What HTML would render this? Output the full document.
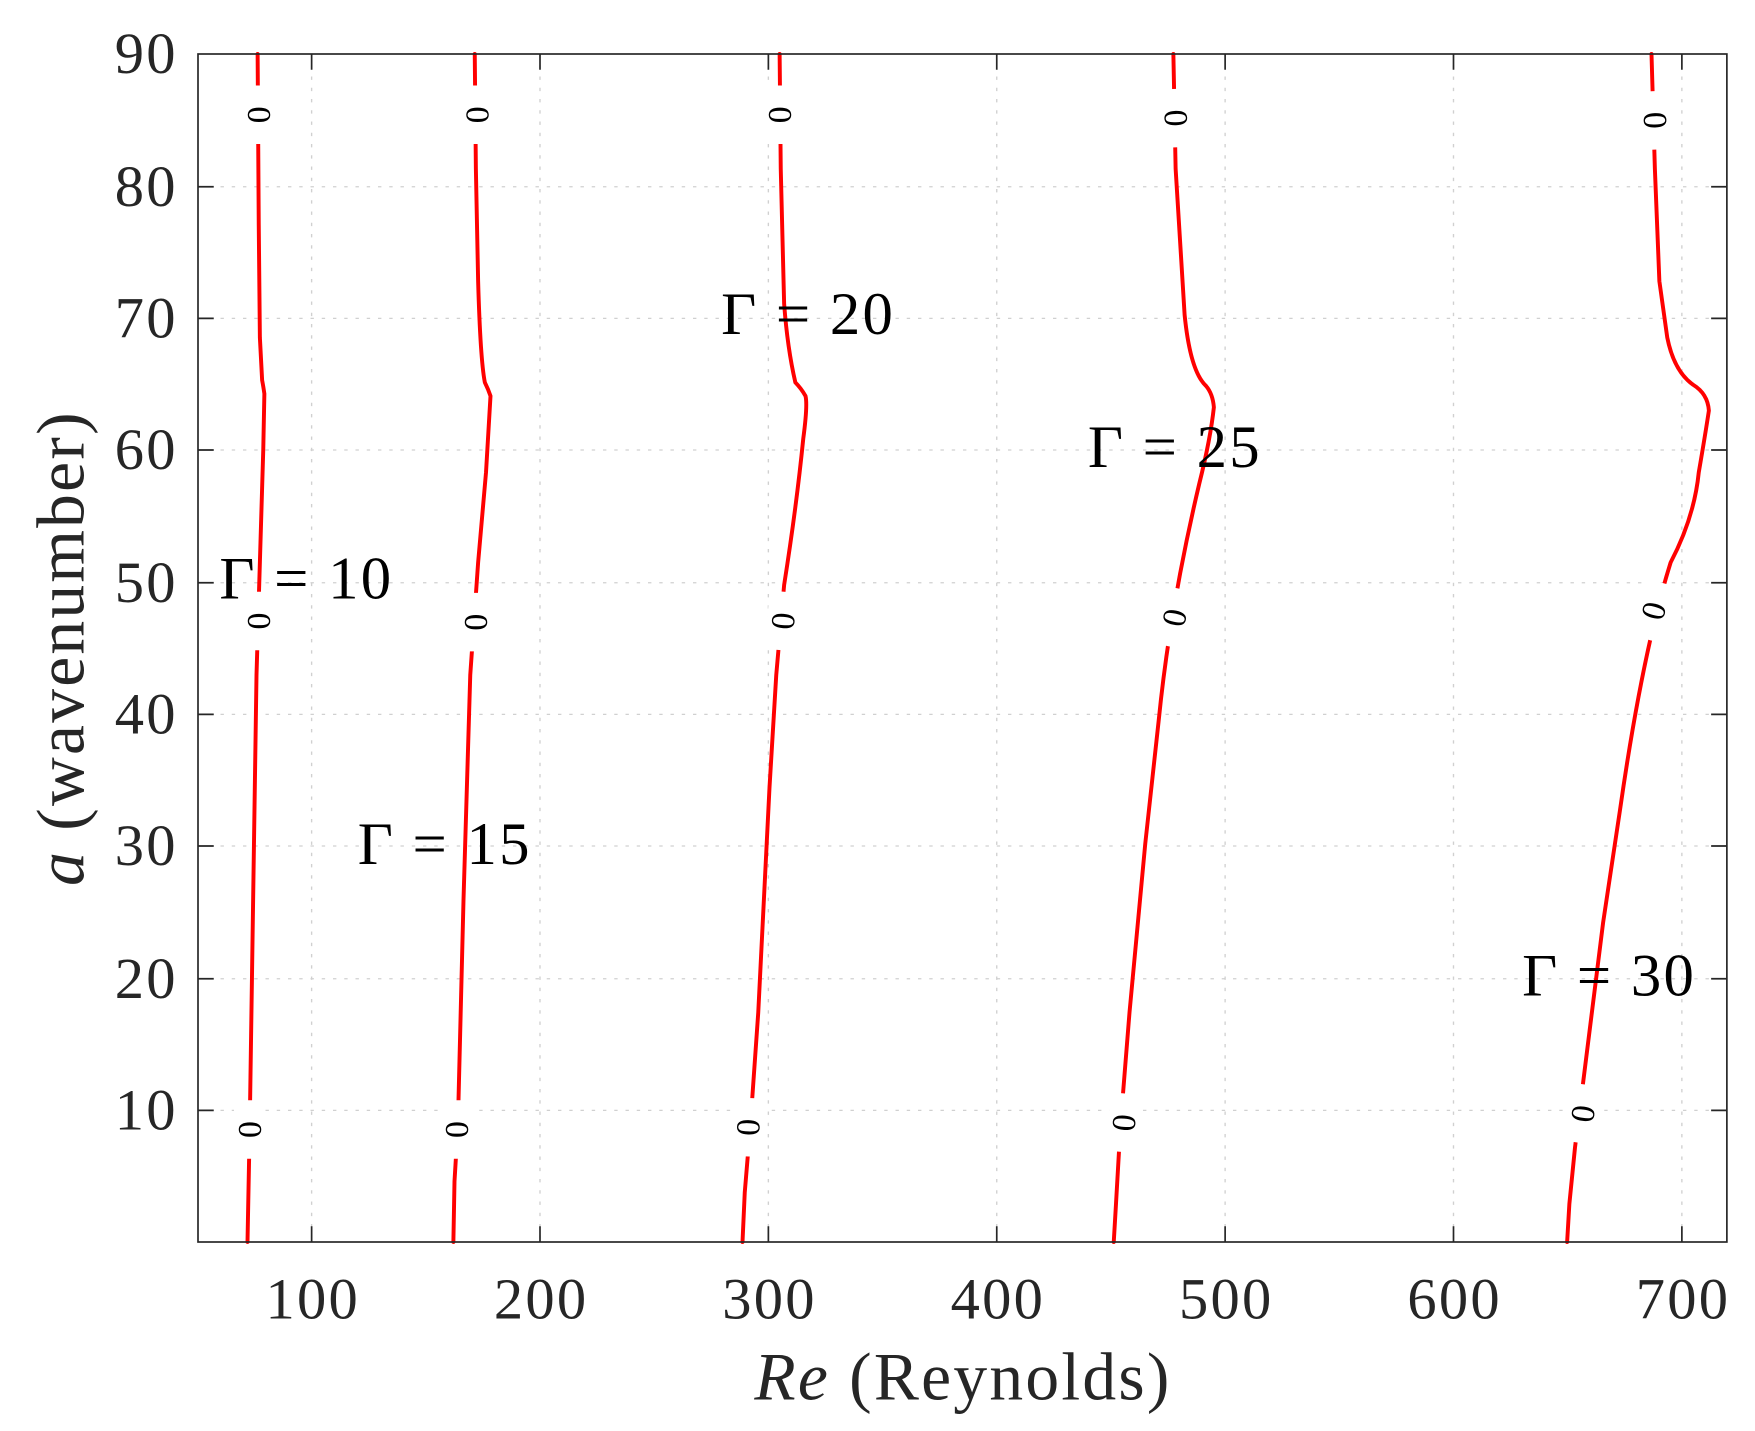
<!DOCTYPE html>
<html><head><meta charset="utf-8"><style>html,body{margin:0;padding:0;background:#fff}svg{display:block}</style></head>
<body>
<svg width="1755" height="1431" viewBox="0 0 1560 1272" xmlns="http://www.w3.org/2000/svg" font-family="Liberation Serif, serif">
<rect width="1560" height="1272" fill="#fff"/>
<g stroke="#d0d0d0" stroke-width="1.2" stroke-dasharray="3,7">
<line x1="277" y1="48" x2="277" y2="1104"/><line x1="480" y1="48" x2="480" y2="1104"/><line x1="683" y1="48" x2="683" y2="1104"/><line x1="886" y1="48" x2="886" y2="1104"/><line x1="1089" y1="48" x2="1089" y2="1104"/><line x1="1292" y1="48" x2="1292" y2="1104"/><line x1="1495" y1="48" x2="1495" y2="1104"/>
<line x1="176" y1="987" x2="1535" y2="987"/><line x1="176" y1="870" x2="1535" y2="870"/><line x1="176" y1="752" x2="1535" y2="752"/><line x1="176" y1="635" x2="1535" y2="635"/><line x1="176" y1="518" x2="1535" y2="518"/><line x1="176" y1="400" x2="1535" y2="400"/><line x1="176" y1="283" x2="1535" y2="283"/><line x1="176" y1="166" x2="1535" y2="166"/>
</g>
<g fill="none" stroke="#ff0000" stroke-width="3.5" stroke-linejoin="round" stroke-linecap="round">
<path d="M220,1104 L222,1000 L225,800 L228,600 L231,500 L234,400 L235,350 Q234,343 233,338 L231,300 L230,200 L229,48"/>
<path d="M403,1104 L404,1050 L407,1000 L412,800 L418,600 L425,500 L432,420 L436,352 Q434,346 431,340 Q427,320 425,250 L423,150 L422,48"/>
<path d="M660,1104 L662,1060 L667,1000 L674,900 L684,700 L690,600 L697,520 Q708,450 714,390 Q718,360 716,352 Q712,345 707,340 Q700,310 697,270 L694,150 L693,48"/>
<path d="M990,1104 L992,1070 L996,1000 L1004,900 L1018,750 L1030,640 Q1040,540 1066,430 Q1076,390 1079,362 Q1078,350 1072,343 Q1058,330 1053,280 L1045,150 L1043,48"/>
<path d="M1393,1104 L1395,1070 L1400,1020 L1410,940 L1425,820 L1440,720 Q1460,580 1485,500 Q1506,460 1510,420 Q1516,385 1519,365 Q1518,350 1505,342 Q1488,330 1482,300 L1475,250 L1471,150 L1468,48"/>
</g>
<g font-size="30" fill="#000" text-anchor="middle">
<g transform="translate(230,102) rotate(-90)"><rect x="-26" y="-14" width="52" height="28" fill="#fff"/><text y="10">0</text></g>
<g transform="translate(230,552) rotate(-90)"><rect x="-26" y="-14" width="52" height="28" fill="#fff"/><text y="10">0</text></g>
<g transform="translate(222,1004) rotate(-90)"><rect x="-26" y="-14" width="52" height="28" fill="#fff"/><text y="10">0</text></g>
<g transform="translate(424,102) rotate(-90)"><rect x="-26" y="-14" width="52" height="28" fill="#fff"/><text y="10">0</text></g>
<g transform="translate(423,553) rotate(-90)"><rect x="-26" y="-14" width="52" height="28" fill="#fff"/><text y="10">0</text></g>
<g transform="translate(406,1004) rotate(-90)"><rect x="-26" y="-14" width="52" height="28" fill="#fff"/><text y="10">0</text></g>
<g transform="translate(693,102) rotate(-90)"><rect x="-26" y="-14" width="52" height="28" fill="#fff"/><text y="10">0</text></g>
<g transform="translate(696,552) rotate(-85)"><rect x="-26" y="-14" width="52" height="28" fill="#fff"/><text y="10">0</text></g>
<g transform="translate(665,1002) rotate(-88)"><rect x="-26" y="-14" width="52" height="28" fill="#fff"/><text y="10">0</text></g>
<g transform="translate(1045,105) rotate(-92)"><rect x="-26" y="-14" width="52" height="28" fill="#fff"/><text y="10">0</text></g>
<g transform="translate(1044,549) rotate(-78)"><rect x="-26" y="-14" width="52" height="28" fill="#fff"/><text y="10">0</text></g>
<g transform="translate(999,998) rotate(-85)"><rect x="-26" y="-14" width="52" height="28" fill="#fff"/><text y="10">0</text></g>
<g transform="translate(1471,107) rotate(-92)"><rect x="-26" y="-14" width="52" height="28" fill="#fff"/><text y="10">0</text></g>
<g transform="translate(1470,543) rotate(-75)"><rect x="-26" y="-14" width="52" height="28" fill="#fff"/><text y="10">0</text></g>
<g transform="translate(1407,990) rotate(-82)"><rect x="-26" y="-14" width="52" height="28" fill="#fff"/><text y="10">0</text></g>
</g>
<g fill="none" stroke="#262626" stroke-width="1.5">
<rect x="176" y="48" width="1359" height="1056"/>
<path d="M277,1104v-14M480,1104v-14M683,1104v-14M886,1104v-14M1089,1104v-14M1292,1104v-14M1495,1104v-14M277,48v14M480,48v14M683,48v14M886,48v14M1089,48v14M1292,48v14M1495,48v14"/>
<path d="M176,987h14M176,870h14M176,752h14M176,635h14M176,518h14M176,400h14M176,283h14M176,166h14M1535,987h-14M1535,870h-14M1535,752h-14M1535,635h-14M1535,518h-14M1535,400h-14M1535,283h-14M1535,166h-14"/>
</g>
<g font-size="52" fill="#262626" text-anchor="end" letter-spacing="2">
<text x="158" y="1004">10</text><text x="158" y="887">20</text><text x="158" y="769">30</text><text x="158" y="652">40</text><text x="158" y="535">50</text><text x="158" y="417">60</text><text x="158" y="300">70</text><text x="158" y="183">80</text><text x="158" y="65">90</text>
</g>
<g font-size="52" fill="#262626" text-anchor="middle" letter-spacing="2">
<text x="278" y="1172">100</text><text x="481" y="1172">200</text><text x="684" y="1172">300</text><text x="887" y="1172">400</text><text x="1090" y="1172">500</text><text x="1293" y="1172">600</text><text x="1496" y="1172">700</text>
</g>
<text x="856" y="1244" font-size="60" fill="#262626" text-anchor="middle" letter-spacing="2"><tspan font-style="italic">Re</tspan> (Reynolds)</text>
<text transform="translate(74,576) rotate(-90)" font-size="60" fill="#262626" text-anchor="middle" letter-spacing="2"><tspan font-style="italic">a</tspan> (wavenumber)</text>
<g font-size="54" fill="#000" letter-spacing="2">
<text x="195" y="532">Γ = 10</text>
<text x="318" y="768">Γ = 15</text>
<text x="641" y="297">Γ = 20</text>
<text x="967" y="415">Γ = 25</text>
<text x="1353" y="885">Γ = 30</text>
</g>
</svg>
</body></html>
